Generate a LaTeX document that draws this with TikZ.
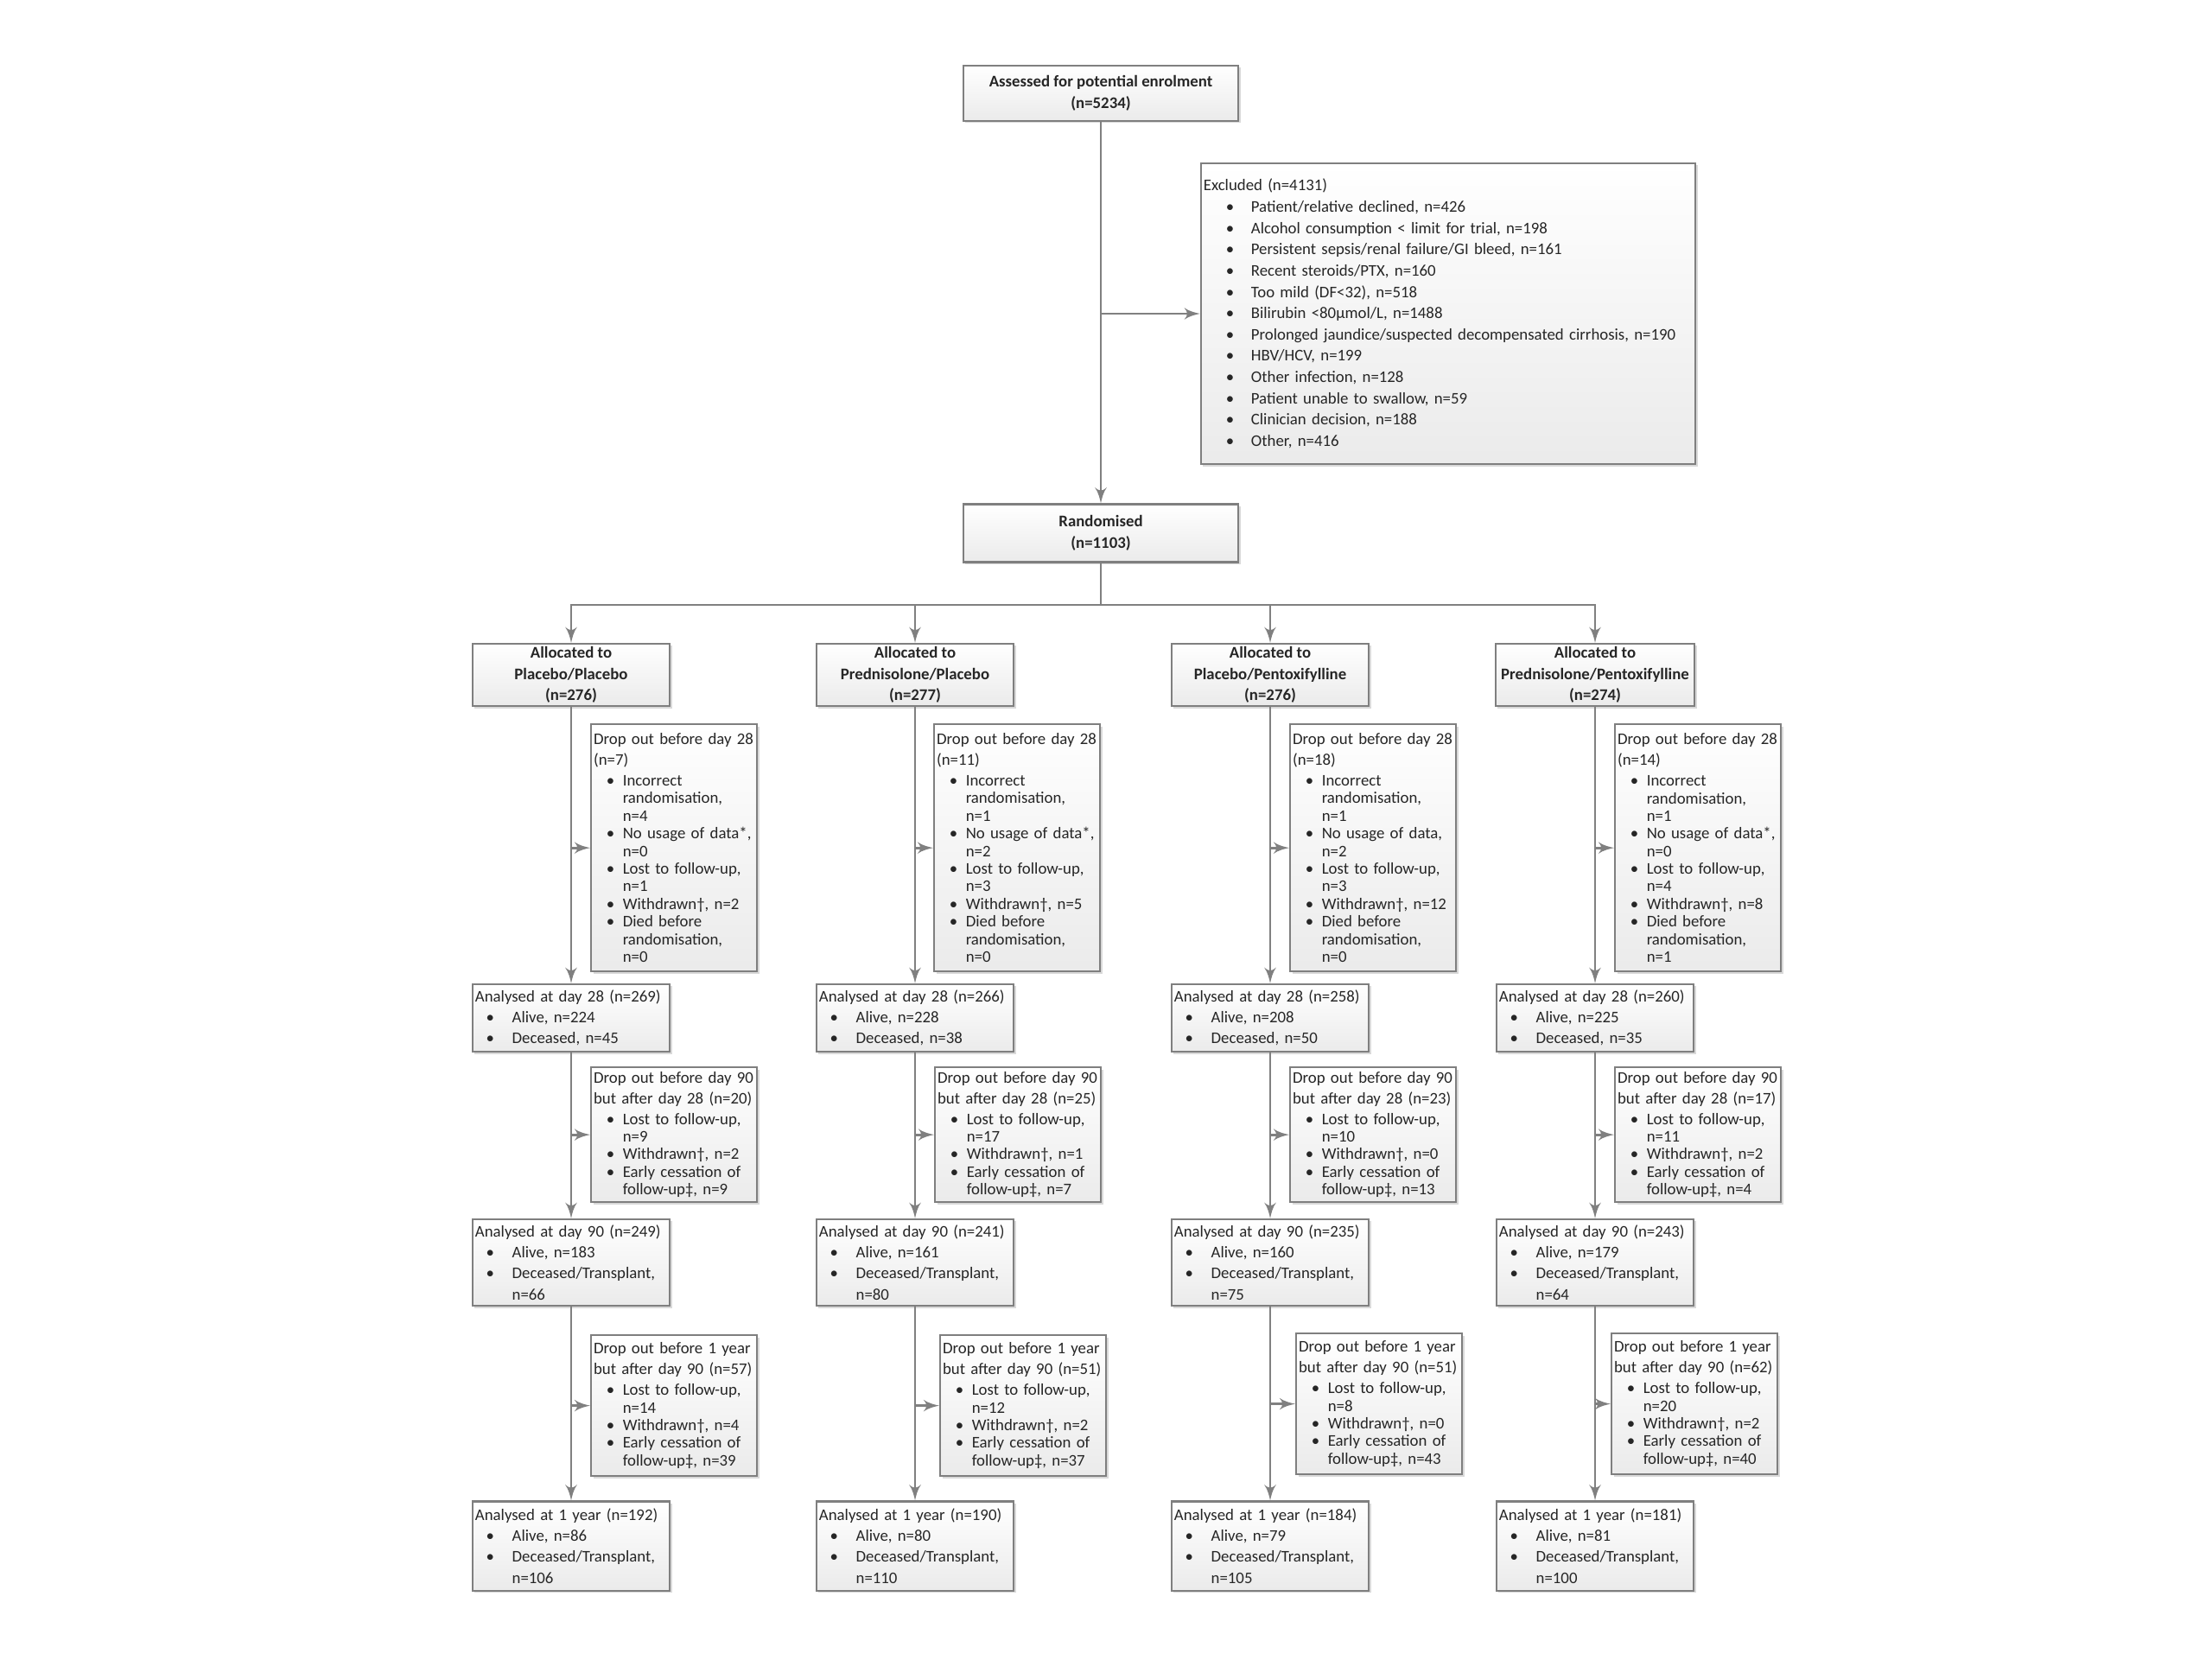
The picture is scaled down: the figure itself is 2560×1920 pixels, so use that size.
\documentclass[tikz,border=0pt]{standalone}
\usepackage{fontspec}
\setmainfont{Carlito}
\usetikzlibrary{arrows,shadows}
\definecolor{boxgray}{HTML}{7F7F7F}
\definecolor{linegray}{HTML}{808080}
\newlength\bulx
\newlength\txtx
\newcommand{\blt}[1]{\hspace*{\bulx}\makebox[\dimexpr\txtx-\bulx\relax][l]{\textbullet}\mbox{#1}}
\newcommand{\bltc}[1]{\hspace*{\txtx}\mbox{#1}}

\begin{document}
\begin{tikzpicture}[x=0.01cm,y=-0.01cm,>=latex',
    flow/.style={->,draw=linegray,line width=0.8pt},
    box/.style={draw=boxgray,line width=0.6pt,top color=white,bottom color=gray!16,
        drop shadow={shadow xshift=0.7pt,shadow yshift=-0.7pt,opacity=0.3},
        inner xsep=0.03cm,inner ysep=0pt,text=black!85},
    headbox/.style={box,align=center,font=\bfseries\fontsize{5.35}{7}\selectfont},
    listbox/.style={box,align=left,text width=2.22cm,font=\fontsize{5.35}{6.9}\selectfont,
        execute at begin node={\setlength\bulx{0.127cm}\setlength\txtx{0.427cm}}},
    dropbox/.style={box,align=left,anchor=north west,text width=1.86cm,font=\fontsize{5.35}{5.8}\selectfont,
        execute at begin node={\setlength\bulx{0.147cm}\setlength\txtx{0.337cm}}}]
\useasboundingbox (0,0) rectangle (2560,1920);

% enrolment and randomisation
\node[headbox,minimum width=3.18cm,minimum height=0.64cm] (assess) at (1274,108) {Assessed for potential enrolment\\(n=5234)};
\node[listbox,text width=5.66cm,minimum height=3.48cm,font=\fontsize{5.35}{7}\selectfont,
    execute at begin node={\setlength\bulx{0.26cm}\setlength\txtx{0.55cm}}] (excl) at (1676,363) {Excluded (n=4131)\\
    \blt{Patient/relative declined, n=426}\\
    \blt{Alcohol consumption < limit for trial, n=198}\\
    \blt{Persistent sepsis/renal failure/GI bleed, n=161}\\
    \blt{Recent steroids/PTX, n=160}\\
    \blt{Too mild (DF<32), n=518}\\
    \blt{Bilirubin <80µmol/L, n=1488}\\
    \blt{Prolonged jaundice/suspected decompensated cirrhosis, n=190}\\
    \blt{HBV/HCV, n=199}\\
    \blt{Other infection, n=128}\\
    \blt{Patient unable to swallow, n=59}\\
    \blt{Clinician decision, n=188}\\
    \blt{Other, n=416}};
\node[headbox,minimum width=3.18cm,minimum height=0.67cm] (rand) at (1274,617) {Randomised\\(n=1103)};
\coordinate (split) at (1274,700);

% allocation
\node[headbox,minimum width=2.28cm,minimum height=0.72cm] (al1) at (661,781) {Allocated to\\Placebo/Placebo\\(n=276)};
\node[headbox,minimum width=2.28cm,minimum height=0.72cm] (al2) at (1059,781) {Allocated to\\Prednisolone/Placebo\\(n=277)};
\node[headbox,minimum width=2.28cm,minimum height=0.72cm] (al3) at (1470,781) {Allocated to\\Placebo/Pentoxifylline\\(n=276)};
\node[headbox,minimum width=2.30cm,minimum height=0.72cm] (al4) at (1846,781) {Allocated to\\Prednisolone/Pentoxifylline\\(n=274)};

% drop out before day 28
\node[dropbox,minimum height=2.86cm] (dra1) at (683,837) {\mbox{Drop out before day 28}\\[1pt] (n=7)\\[1pt]
    \blt{Incorrect}\\ \bltc{randomisation,}\\ \bltc{n=4}\\ \blt{No usage of data*,}\\ \bltc{n=0}\\
    \blt{Lost to follow-up,}\\ \bltc{n=1}\\ \blt{Withdrawn†, n=2}\\ \blt{Died before}\\ \bltc{randomisation,}\\ \bltc{n=0}};
\node[dropbox,minimum height=2.86cm] (dra2) at (1080,837) {\mbox{Drop out before day 28}\\[1pt] (n=11)\\[1pt]
    \blt{Incorrect}\\ \bltc{randomisation,}\\ \bltc{n=1}\\ \blt{No usage of data*,}\\ \bltc{n=2}\\
    \blt{Lost to follow-up,}\\ \bltc{n=3}\\ \blt{Withdrawn†, n=5}\\ \blt{Died before}\\ \bltc{randomisation,}\\ \bltc{n=0}};
\node[dropbox,minimum height=2.86cm] (dra3) at (1492,837) {\mbox{Drop out before day 28}\\[1pt] (n=18)\\[1pt]
    \blt{Incorrect}\\ \bltc{randomisation,}\\ \bltc{n=1}\\ \blt{No usage of data,}\\ \bltc{n=2}\\
    \blt{Lost to follow-up,}\\ \bltc{n=3}\\ \blt{Withdrawn†, n=12}\\ \blt{Died before}\\ \bltc{randomisation,}\\ \bltc{n=0}};
\node[dropbox,minimum height=2.86cm] (dra4) at (1868,837) {\mbox{Drop out before day 28}\\[1pt] (n=14)\\[1pt]
    \blt{Incorrect}\\ \bltc{randomisation,}\\ \bltc{n=1}\\ \blt{No usage of data*,}\\ \bltc{n=0}\\
    \blt{Lost to follow-up,}\\ \bltc{n=4}\\ \blt{Withdrawn†, n=8}\\ \blt{Died before}\\ \bltc{randomisation,}\\ \bltc{n=1}};

% analysed at day 28
\node[listbox,minimum height=0.78cm] (ana1) at (661,1178) {\mbox{Analysed at day 28 (n=269)}\\ \blt{Alive, n=224}\\ \blt{Deceased, n=45}};
\node[listbox,minimum height=0.78cm] (ana2) at (1059,1178) {\mbox{Analysed at day 28 (n=266)}\\ \blt{Alive, n=228}\\ \blt{Deceased, n=38}};
\node[listbox,minimum height=0.78cm] (ana3) at (1470,1178) {\mbox{Analysed at day 28 (n=258)}\\ \blt{Alive, n=208}\\ \blt{Deceased, n=50}};
\node[listbox,minimum height=0.78cm] (ana4) at (1846,1178) {\mbox{Analysed at day 28 (n=260)}\\ \blt{Alive, n=225}\\ \blt{Deceased, n=35}};

% drop out before day 90
\node[dropbox,minimum height=1.56cm] (drb1) at (683,1234) {\mbox{Drop out before day 90}\\[1pt] \mbox{but after day 28 (n=20)}\\[1pt]
    \blt{Lost to follow-up,}\\ \bltc{n=9}\\ \blt{Withdrawn†, n=2}\\ \blt{Early cessation of}\\ \bltc{follow-up‡, n=9}};
\node[dropbox,minimum height=1.56cm] (drb2) at (1081,1234) {\mbox{Drop out before day 90}\\[1pt] \mbox{but after day 28 (n=25)}\\[1pt]
    \blt{Lost to follow-up,}\\ \bltc{n=17}\\ \blt{Withdrawn†, n=1}\\ \blt{Early cessation of}\\ \bltc{follow-up‡, n=7}};
\node[dropbox,minimum height=1.56cm] (drb3) at (1492,1234) {\mbox{Drop out before day 90}\\[1pt] \mbox{but after day 28 (n=23)}\\[1pt]
    \blt{Lost to follow-up,}\\ \bltc{n=10}\\ \blt{Withdrawn†, n=0}\\ \blt{Early cessation of}\\ \bltc{follow-up‡, n=13}};
\node[dropbox,minimum height=1.56cm] (drb4) at (1868,1234) {\mbox{Drop out before day 90}\\[1pt] \mbox{but after day 28 (n=17)}\\[1pt]
    \blt{Lost to follow-up,}\\ \bltc{n=11}\\ \blt{Withdrawn†, n=2}\\ \blt{Early cessation of}\\ \bltc{follow-up‡, n=4}};

% analysed at day 90
\node[listbox,minimum height=1.00cm] (anb1) at (661,1461) {\mbox{Analysed at day 90 (n=249)}\\ \blt{Alive, n=183}\\ \blt{Deceased/Transplant,}\\ \bltc{n=66}};
\node[listbox,minimum height=1.00cm] (anb2) at (1059,1461) {\mbox{Analysed at day 90 (n=241)}\\ \blt{Alive, n=161}\\ \blt{Deceased/Transplant,}\\ \bltc{n=80}};
\node[listbox,minimum height=1.00cm] (anb3) at (1470,1461) {\mbox{Analysed at day 90 (n=235)}\\ \blt{Alive, n=160}\\ \blt{Deceased/Transplant,}\\ \bltc{n=75}};
\node[listbox,minimum height=1.00cm] (anb4) at (1846,1461) {\mbox{Analysed at day 90 (n=243)}\\ \blt{Alive, n=179}\\ \blt{Deceased/Transplant,}\\ \bltc{n=64}};

% drop out before 1 year
\node[dropbox,minimum height=1.63cm] (drc1) at (683,1544) {\mbox{Drop out before 1 year}\\[1pt] \mbox{but after day 90 (n=57)}\\[1pt]
    \blt{Lost to follow-up,}\\ \bltc{n=14}\\ \blt{Withdrawn†, n=4}\\ \blt{Early cessation of}\\ \bltc{follow-up‡, n=39}};
\node[dropbox,minimum height=1.63cm] (drc2) at (1087,1544) {\mbox{Drop out before 1 year}\\[1pt] \mbox{but after day 90 (n=51)}\\[1pt]
    \blt{Lost to follow-up,}\\ \bltc{n=12}\\ \blt{Withdrawn†, n=2}\\ \blt{Early cessation of}\\ \bltc{follow-up‡, n=37}};
\node[dropbox,minimum height=1.63cm] (drc3) at (1499,1542) {\mbox{Drop out before 1 year}\\[1pt] \mbox{but after day 90 (n=51)}\\[1pt]
    \blt{Lost to follow-up,}\\ \bltc{n=8}\\ \blt{Withdrawn†, n=0}\\ \blt{Early cessation of}\\ \bltc{follow-up‡, n=43}};
\node[dropbox,minimum height=1.63cm] (drc4) at (1864,1542) {\mbox{Drop out before 1 year}\\[1pt] \mbox{but after day 90 (n=62)}\\[1pt]
    \blt{Lost to follow-up,}\\ \bltc{n=20}\\ \blt{Withdrawn†, n=2}\\ \blt{Early cessation of}\\ \bltc{follow-up‡, n=40}};

% analysed at 1 year
\node[listbox,minimum height=1.03cm] (anc1) at (661,1789) {\mbox{Analysed at 1 year (n=192)}\\ \blt{Alive, n=86}\\ \blt{Deceased/Transplant,}\\ \bltc{n=106}};
\node[listbox,minimum height=1.03cm] (anc2) at (1059,1789) {\mbox{Analysed at 1 year (n=190)}\\ \blt{Alive, n=80}\\ \blt{Deceased/Transplant,}\\ \bltc{n=110}};
\node[listbox,minimum height=1.03cm] (anc3) at (1470,1789) {\mbox{Analysed at 1 year (n=184)}\\ \blt{Alive, n=79}\\ \blt{Deceased/Transplant,}\\ \bltc{n=105}};
\node[listbox,minimum height=1.03cm] (anc4) at (1846,1789) {\mbox{Analysed at 1 year (n=181)}\\ \blt{Alive, n=81}\\ \blt{Deceased/Transplant,}\\ \bltc{n=100}};

% connectors
\draw[flow] (assess) -- (rand);
\draw[flow] (assess |- excl.west) -- (excl.west);
\draw[flow,-] (rand) -- (split);
\foreach \c in {1,2,3,4} {
    \draw[flow] (split) -| (al\c);
    \draw[flow] (al\c) -- (ana\c);
    \draw[flow] (ana\c) -- (anb\c);
    \draw[flow] (anb\c) -- (anc\c);
    \draw[flow] (al\c |- dra\c.west) -- (dra\c.west);
    \draw[flow] (al\c |- drb\c.west) -- (drb\c.west);
    \draw[flow] (al\c |- drc\c.west) -- (drc\c.west);
}
\end{tikzpicture}
\end{document}
